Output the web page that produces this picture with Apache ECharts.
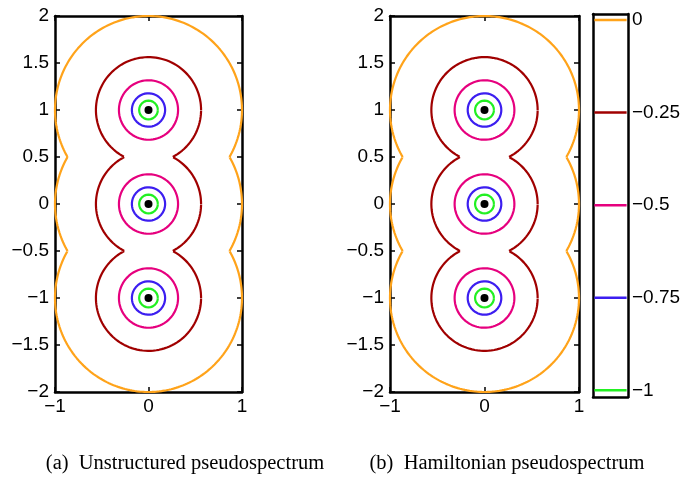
<!DOCTYPE html>
<html>
<head>
<meta charset="utf-8">
<script src="https://cdn.jsdelivr.net/npm/echarts@6/dist/echarts.min.js"></script>
<style>
  html, body { margin: 0; padding: 0; background: #fff; }
  #chart { width: 699px; height: 484px; }
</style>
</head>
<body>
<div id="chart"></div>
<script>
// eigenvalues (imaginary parts, real part 0) and contour levels log10(eps)
const eigenvalues = [1, 0, -1];
const levels = [0, -0.25, -0.5, -0.75, -1];
const levelColors = ["#ffa31a", "#a00000", "#e6007e", "#3c1ef0", "#22f022"];
const xTicks = [-1, 0, 1];
const yTicks = [-2, -1.5, -1, -0.5, 0, 0.5, 1, 1.5, 2];
const captions = ["(a)  Unstructured pseudospectrum", "(b)  Hamiltonian pseudospectrum"];

const FONT = "Liberation Sans";
const FS = 19;

function fmt(v) {
    return v < 0 ? "\u2212" + String(-v) : String(v);
}

// boundary of the eps-pseudospectrum (union of discs around the eigenvalues)
function contourArcs(level) {
    const r = Math.pow(10, level);
    const pts = [];
    const steps = 720;
    eigenvalues.forEach(c => {
        for (let k = 0; k <= steps; k++) {
            const t = 2 * Math.PI * k / steps;
            const x = r * Math.cos(t);
            const y = c + r * Math.sin(t);
            const outside = eigenvalues.every(o =>
                o === c || Math.hypot(x, y - o) >= r - 1e-3
            );
            pts.push(outside ? [x, y] : null);
        }
        pts.push(null);
    });
    return pts;
}

const chart = echarts.init(document.getElementById("chart"), null, { renderer: "canvas" });

const panels = [
    { left: 55, width: 187 },
    { left: 390, width: 189 }
];

const grids = [];
const xAxes = [];
const yAxes = [];
const series = [];

const frameLine = { show: true, onZero: false, lineStyle: { color: "#000", width: 2.5 } };
const inTick = { inside: true, length: 5, lineStyle: { color: "#000", width: 1.5 } };

panels.forEach((p, i) => {
    grids.push({ left: p.left, top: 16, width: p.width, height: 376 });
    const base = i * 2;
    // bottom + top x axes
    xAxes.push({
        gridIndex: i, type: "value", min: xTicks[0], max: xTicks[xTicks.length - 1], interval: 1,
        axisLine: frameLine, axisTick: inTick,
        axisLabel: { color: "#000", fontFamily: FONT, fontSize: FS, margin: 5, formatter: fmt },
        splitLine: { show: false }
    });
    xAxes.push({
        gridIndex: i, type: "value", position: "top", min: -1, max: 1, interval: 1,
        axisLine: frameLine, axisTick: inTick,
        axisLabel: { show: false },
        splitLine: { show: false }
    });
    // left + right y axes
    yAxes.push({
        gridIndex: i, type: "value", min: yTicks[0], max: yTicks[yTicks.length - 1], interval: 0.5,
        axisLine: frameLine, axisTick: inTick,
        axisLabel: { color: "#000", fontFamily: FONT, fontSize: FS, margin: 6, formatter: fmt },
        splitLine: { show: false }
    });
    yAxes.push({
        gridIndex: i, type: "value", position: "right", min: -2, max: 2, interval: 0.5,
        axisLine: frameLine, axisTick: inTick,
        axisLabel: { show: false },
        splitLine: { show: false }
    });

    levels.forEach((lv, j) => {
        series.push({
            type: "line",
            xAxisIndex: base, yAxisIndex: base,
            data: contourArcs(lv),
            showSymbol: false,
            connectNulls: false,
            lineStyle: { color: levelColors[j], width: 2.2 },
            silent: true,
            animation: false,
            z: 2
        });
    });

    series.push({
        type: "scatter",
        xAxisIndex: base, yAxisIndex: base,
        data: eigenvalues.map(c => [0, c]),
        symbolSize: 8,
        itemStyle: { color: "#000", opacity: 1 },
        animation: false,
        z: 3
    });
});

// colorbar
grids.push({ left: 593, top: 14, width: 35, height: 383 });
const cbMin = -1.018;
const cbMax = 0.016;
xAxes.push({
    gridIndex: 2, type: "value", min: 0, max: 1,
    axisLine: frameLine, axisTick: { show: false }, axisLabel: { show: false },
    splitLine: { show: false }
});
xAxes.push({
    gridIndex: 2, type: "value", position: "top", min: 0, max: 1,
    axisLine: frameLine, axisTick: { show: false }, axisLabel: { show: false },
    splitLine: { show: false }
});
yAxes.push({
    gridIndex: 2, type: "value", min: cbMin, max: cbMax,
    axisLine: frameLine, axisTick: { show: false }, axisLabel: { show: false },
    splitLine: { show: false }
});
yAxes.push({
    gridIndex: 2, type: "value", position: "right", min: cbMin, max: cbMax,
    axisLine: frameLine,
    axisTick: { show: false },
    axisLabel: {
        show: true, customValues: levels, color: "#000",
        fontFamily: FONT, fontSize: FS, margin: 4, formatter: fmt
    },
    splitLine: { show: false }
});
levels.forEach((lv, j) => {
    series.push({
        type: "line",
        xAxisIndex: 4, yAxisIndex: 5,
        data: [[0.04, lv], [0.96, lv]],
        showSymbol: false,
        lineStyle: { color: levelColors[j], width: 2.5 },
        silent: true,
        animation: false
    });
});

chart.setOption({
    animation: false,
    title: captions.map((t, i) => ({
        text: t,
        left: i === 0 ? 180 : 502,
        top: 448,
        textAlign: "center",
        textStyle: {
            fontFamily: "Liberation Serif", fontWeight: "normal",
            fontSize: 20.5, color: "#000"
        }
    })),
    grid: grids,
    xAxis: xAxes,
    yAxis: yAxes,
    series: series
});
</script>
</body>
</html>
